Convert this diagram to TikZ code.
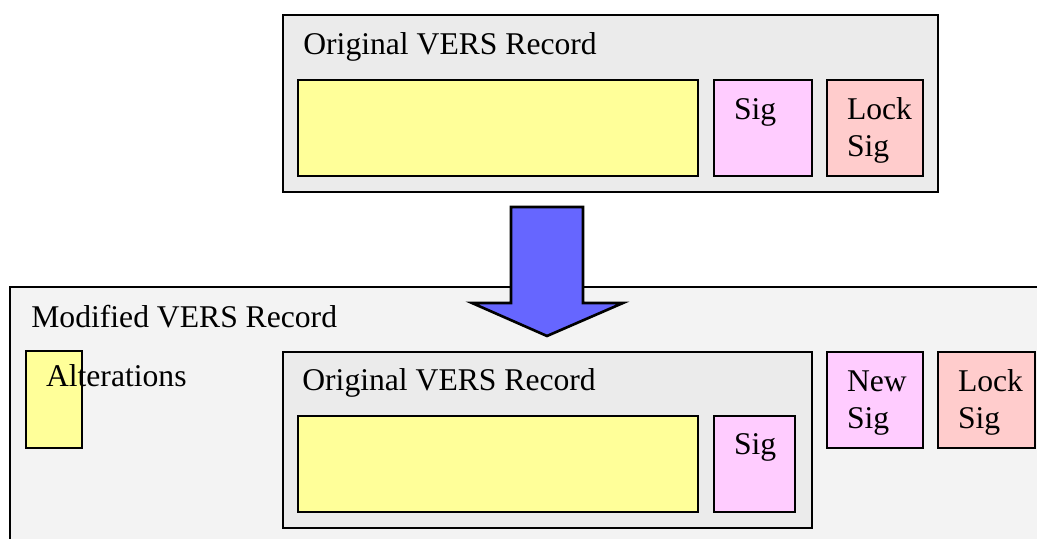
\documentclass[tikz,border=0pt]{standalone}
\usepackage{fontspec}
\setmainfont{Liberation Serif}
\usetikzlibrary{positioning}
\definecolor{datayellow}{HTML}{FFFF99}
\definecolor{sigpink}{HTML}{FFCCFF}
\definecolor{lockpink}{HTML}{FFCCCC}
\definecolor{arrowblue}{HTML}{6666FF}
\definecolor{recgray}{HTML}{EBEBEB}
\definecolor{modgray}{HTML}{F3F3F3}

\begin{document}
\begin{tikzpicture}[
        record/.style={draw=black, line width=1.5pt, fill=recgray, anchor=north west, inner sep=0pt, outer sep=0pt},
        datafield/.style={draw=black, line width=1.5pt, fill=datayellow, anchor=north west, inner sep=0pt, outer sep=0pt, minimum width=8cm, minimum height=1.92cm},
        sigfield/.style={draw=black, line width=1.5pt, fill=sigpink, anchor=north west, inner xsep=0.4cm, inner ysep=0pt, outer sep=0pt, align=left, text height=0.8cm, text depth=1.12cm},
        lockfield/.style={sigfield, fill=lockpink},
        heading/.style={anchor=base west, inner sep=0pt},
        blockarrow/.style={draw=black, line width=1.5pt, fill=arrowblue, line join=miter},
        font=\fontsize{18}{20.5}\selectfont
    ]
    \useasboundingbox (0,0) rectangle (20.74,10.78);

    % Top - original record
    \node[record, minimum width=13.1cm, minimum height=3.54cm] (origtop) at (5.66,10.48) {};
    \node[heading] (origtoptitle) at (6.06,9.68) {Original VERS Record};
    \node[datafield] (datatop) at (5.96,9.18) {};
    \node[sigfield, text width=1.16cm, right=0.32cm of datatop] (sigtop) {Sig};
    \node[lockfield, text width=1.12cm, right=0.30cm of sigtop] (locktop) {Lock Sig};

    % Bottom - modified record
    \node[record, fill=modgray, minimum width=22cm, minimum height=6cm] (modrec) at (0.2,5.04) {};
    \node[heading] (modtitle) at (0.62,4.22) {Modified VERS Record};
    \node[sigfield, fill=datayellow, text width=0.32cm, text height=0.72cm, text depth=1.22cm] (alter) at (0.52,3.76) {Alterations};
    \node[record, minimum width=10.58cm, minimum height=3.52cm] (origbot) at (5.66,3.74) {};
    \node[heading] (origbottitle) at (6.04,2.96) {Original VERS Record};
    \node[datafield] (databot) at (5.96,2.46) {};
    \node[sigfield, text width=0.82cm, text height=0.78cm, text depth=1.14cm, right=0.32cm of databot] (sigbot) {Sig};
    \node[sigfield, text width=1.12cm] (newsig) at (16.54,3.74) {New Sig};
    \node[lockfield, text width=1.14cm, right=0.30cm of newsig] (lockbot) {Lock Sig};

    % block arrow between the two records
    \draw[blockarrow] (10.22,6.64) -- (11.66,6.64) -- (11.66,4.72) -- (12.46,4.72)
        -- (10.94,4.06) -- (9.44,4.72) -- (10.22,4.72) -- cycle;
\end{tikzpicture}
\end{document}
